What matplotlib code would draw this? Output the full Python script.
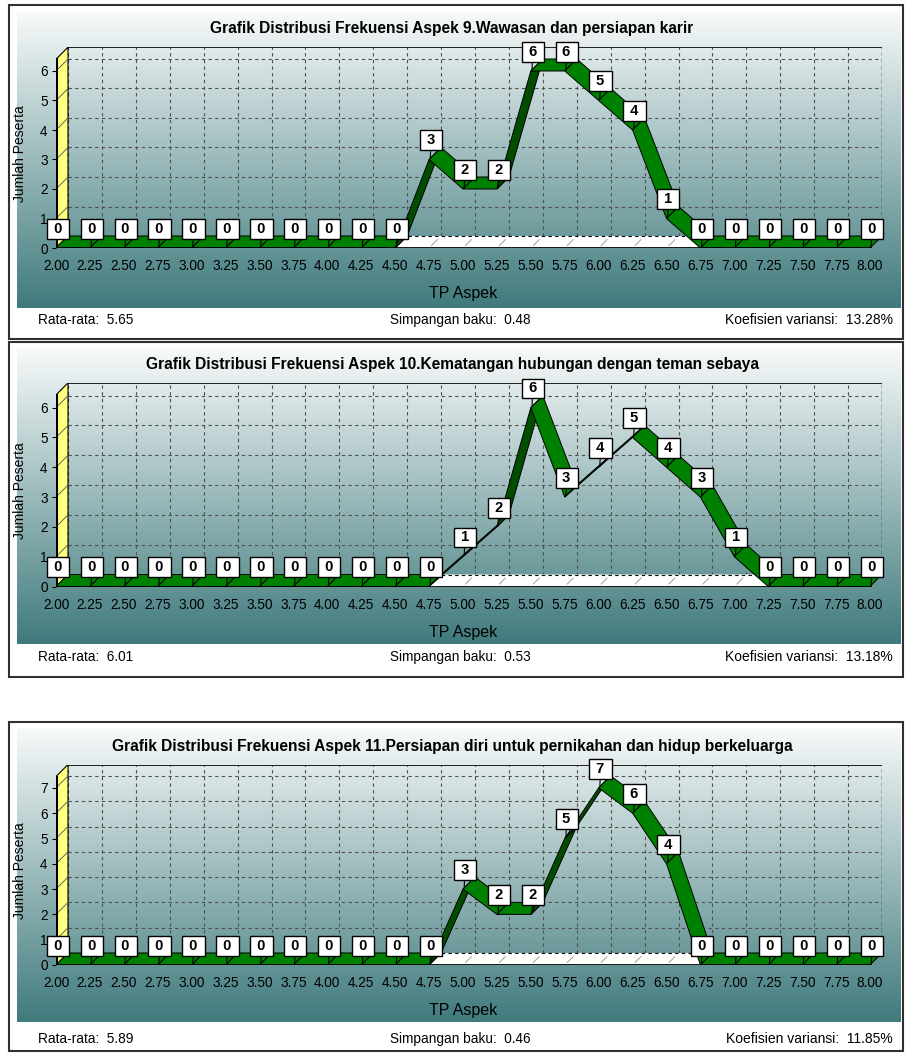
import matplotlib.pyplot as plt
import numpy as np
from matplotlib.patches import Polygon, Rectangle

plt.rcParams['font.family'] = ['Liberation Sans', 'DejaVu Sans']

W, H = 906, 1053

# data
tp_aspek = [2.00, 2.25, 2.50, 2.75, 3.00, 3.25, 3.50, 3.75, 4.00, 4.25, 4.50, 4.75,
            5.00, 5.25, 5.50, 5.75, 6.00, 6.25, 6.50, 6.75, 7.00, 7.25, 7.50, 7.75, 8.00]
tp_labels = [f'{v:.2f}' for v in tp_aspek]

freq_aspek9 = [0, 0, 0, 0, 0, 0, 0, 0, 0, 0, 0, 3, 2, 2, 6, 6, 5, 4, 1, 0, 0, 0, 0, 0, 0]
freq_aspek10 = [0, 0, 0, 0, 0, 0, 0, 0, 0, 0, 0, 0, 1, 2, 6, 3, 4, 5, 4, 3, 1, 0, 0, 0, 0]
freq_aspek11 = [0, 0, 0, 0, 0, 0, 0, 0, 0, 0, 0, 0, 3, 2, 2, 5, 7, 6, 4, 0, 0, 0, 0, 0, 0]

titles = ['Grafik Distribusi Frekuensi Aspek 9.Wawasan dan persiapan karir',
          'Grafik Distribusi Frekuensi Aspek 10.Kematangan hubungan dengan teman sebaya',
          'Grafik Distribusi Frekuensi Aspek 11.Persiapan diri untuk pernikahan dan hidup berkeluarga']
rata_rata = ['5.65', '6.01', '5.89']
simpangan = ['0.48', '0.53', '0.46']
koefisien = ['13.28%', '13.18%', '11.85%']
y_max_tick = [6, 6, 7]

# layout in pixels (frame / gradient edges, zero line, px per unit ...)
frame_top = [5, 342, 722]
frame_bot = [339, 677, 1051]
grad_top = [12, 348, 728]
grad_bot = [308, 644, 1022]
zero_px = [248, 586.5, 965]
px_per_y = [29.5, 29.8, 25.3]
y_top = [6.4, 6.43, 7.45]
title_px = [29, 365, 747]
stats_px = [320, 657, 1039]

X_LEFT, X_RIGHT = 56, 870          # pixel of 2.00 and 8.00
DEPTH = 12                          # 3d depth in pixels
px_per_x = (X_RIGHT - X_LEFT) / (tp_aspek[-1] - tp_aspek[0])

GREEN = '#008000'
DARK_GREEN = '#004d00'


def fig_rect(x0, y0, x1, y1):
    return [x0 / W, 1 - y1 / H, (x1 - x0) / W, (y1 - y0) / H]


fig = plt.figure(figsize=(W / 100, H / 100), dpi=100)

grad = np.linspace([0.97, 0.98, 0.98], [0.25, 0.48, 0.49], 256)[:, None, :]

for p, freq in enumerate([freq_aspek9, freq_aspek10, freq_aspek11]):
    # outer frame
    fig.add_artist(Rectangle((9 / W, 1 - frame_bot[p] / H), 894 / W,
                             (frame_bot[p] - frame_top[p]) / H,
                             transform=fig.transFigure, fill=False,
                             ec='#303030', lw=1.5))
    # gradient background
    bg = fig.add_axes(fig_rect(17, grad_top[p], 901, grad_bot[p]))
    bg.imshow(grad, aspect='auto', extent=[0, 1, 0, 1])
    bg.axis('off')

    dx = DEPTH / px_per_x
    dy = DEPTH / px_per_y[p]
    ytop = y_top[p]
    top_px = zero_px[p] - ytop * px_per_y[p] - DEPTH
    ax = fig.add_axes(fig_rect(X_LEFT, top_px, X_RIGHT + DEPTH, zero_px[p]))
    ax.patch.set_alpha(0)
    ax.set_xlim(tp_aspek[0], tp_aspek[-1] + dx)
    ax.set_ylim(0, ytop + dy)
    for s in ax.spines.values():
        s.set_visible(False)

    x0, x1 = tp_aspek[0], tp_aspek[-1]

    # back wall grid
    for x in tp_aspek:
        ax.plot([x + dx, x + dx], [dy, ytop + dy], ls=(0, (3, 3)), color='#505050', lw=0.8, zorder=1)
    for k in range(0, y_max_tick[p] + 1):
        ax.plot([x0 + dx, x1 + dx], [k + dy, k + dy], ls=(0, (3, 3)), color='#505050', lw=0.8, zorder=1)
    ax.plot([x0 + dx, x1 + dx], [ytop + dy, ytop + dy], color='black', lw=1.2, zorder=1)
    ax.plot([x1 + dx, x1 + dx], [dy, ytop + dy], ls=(0, (3, 2)), color='black', lw=1.0, zorder=1)

    # left wall (yellow)
    ax.add_patch(Polygon([(x0, 0), (x0, ytop), (x0 + dx, ytop + dy), (x0 + dx, dy)],
                         closed=True, fc='#ffff80', ec='black', lw=0.8, zorder=2))
    for k in range(0, y_max_tick[p] + 1):
        ax.plot([x0, x0 + dx], [k, k + dy], color='#505050', lw=0.6, zorder=2)
    ax.plot([x0, x0], [0, ytop], color='black', lw=2.2, zorder=4)

    # floor
    ax.add_patch(Polygon([(x0, 0), (x1, 0), (x1 + dx, dy), (x0 + dx, dy)],
                         closed=True, fc='white', ec='none', zorder=2))
    ax.plot([x0 + dx, x1 + dx], [dy, dy], ls=(0, (3, 3)), color='black', lw=0.8, zorder=2)
    for x in tp_aspek:
        ax.plot([x + dx * 0.2, x + dx * 0.7], [dy * 0.2, dy * 0.7], color='#909090', lw=0.6, zorder=2)

    # ribbon
    for i in range(len(tp_aspek) - 1):
        xa, xb = tp_aspek[i], tp_aspek[i + 1]
        ya, yb = freq[i], freq[i + 1]
        sx = (xb - xa) * px_per_x
        sy = (yb - ya) * px_per_y[p]
        face = GREEN if sx - sy > 0 else DARK_GREEN
        ax.add_patch(Polygon([(xa, ya), (xb, yb), (xb + dx, yb + dy), (xa + dx, ya + dy)],
                             closed=True, fc=face, ec='black', lw=0.7, zorder=3))

    ax.plot([x0, x1], [0, 0], color='black', lw=2, zorder=4)

    # value labels
    for x, v in zip(tp_aspek, freq):
        ax.annotate(f' {v} ', xy=(x + dx * 0.1, v + dy * 0.1), xytext=(0.5, 13),
                    textcoords='offset points', ha='center', va='center',
                    fontsize=10.5, fontweight='bold', annotation_clip=False,
                    bbox=dict(boxstyle='square,pad=0.2', fc='white', ec='black', lw=1),
                    arrowprops=dict(arrowstyle='-', color='black', lw=0.8,
                                    shrinkA=0, shrinkB=0),
                    zorder=5)

    ax.set_xticks(tp_aspek, tp_labels)
    ax.set_yticks(range(0, y_max_tick[p] + 1))
    ax.tick_params(axis='x', length=0, pad=8, labelsize=9.8, colors='black')
    ax.tick_params(axis='y', length=3, width=0.8, pad=3, labelsize=9.8, colors='black')

    ax_h = zero_px[p] - top_px
    ax.set_xlabel('TP Aspek', fontsize=11.5)
    ax.xaxis.set_label_coords((463 - X_LEFT) / (X_RIGHT + DEPTH - X_LEFT), -38 / ax_h)
    ax.set_ylabel('Jumlah Peserta', fontsize=10)
    ax.yaxis.set_label_coords((27 - X_LEFT) / (X_RIGHT + DEPTH - X_LEFT),
                              (ytop / 2) * px_per_y[p] / ax_h)

    fig.text(452 / W, 1 - title_px[p] / H, titles[p], ha='center', va='center',
             fontsize=11.2, fontweight='bold')
    fig.text(38 / W, 1 - stats_px[p] / H, 'Rata-rata:  ' + rata_rata[p],
             ha='left', va='center', fontsize=9.8)
    fig.text(390 / W, 1 - stats_px[p] / H, 'Simpangan baku:  ' + simpangan[p],
             ha='left', va='center', fontsize=9.8)
    fig.text(893 / W, 1 - stats_px[p] / H, 'Koefisien variansi:  ' + koefisien[p],
             ha='right', va='center', fontsize=10)

fig.savefig('out.png', dpi=100)
